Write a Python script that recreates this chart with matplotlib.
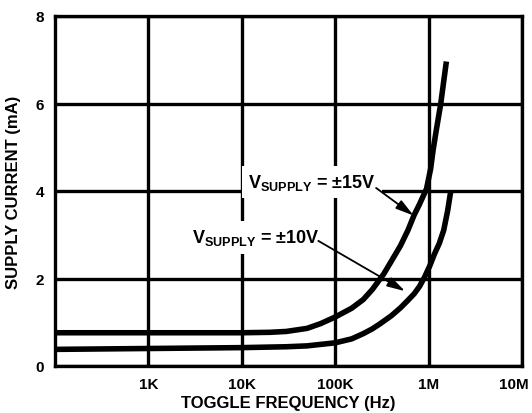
import matplotlib
matplotlib.use("Agg")
import matplotlib.pyplot as plt
import matplotlib.transforms as mtransforms
from matplotlib.ticker import FixedLocator, FixedFormatter, NullLocator

plt.rcParams['font.family'] = ['Liberation Sans', 'DejaVu Sans']
plt.rcParams['mathtext.fontset'] = 'custom'
plt.rcParams['mathtext.rm'] = 'Liberation Sans:bold'
plt.rcParams['mathtext.it'] = 'Liberation Sans:bold'
plt.rcParams['mathtext.bf'] = 'Liberation Sans:bold'

# Data
freq_15 = [100, 1e3, 1e4, 2e4, 3e4, 5e4, 7e4, 1e5, 1.5e5, 2e5, 2.5e5, 3.3e5, 4e5, 5e5,
           6e5, 7e5, 8e5, 9.5e5, 1.05e6, 1.12e6, 1.2e6, 1.35e6, 1.45e6, 1.55e6]
curr_15 = [0.76, 0.76, 0.76, 0.77, 0.79, 0.86, 0.97, 1.12, 1.32, 1.52, 1.75, 2.1, 2.4, 2.75,
           3.1, 3.45, 3.7, 4.05, 4.5, 4.95, 5.35, 6.0, 6.5, 6.96]

freq_10 = [100, 1e3, 1e4, 3e4, 5e4, 1e5, 1.5e5, 2e5, 2.5e5, 3e5, 4e5, 5e5, 6e5, 7e5,
           8e5, 9e5, 1.03e6, 1.15e6, 1.3e6, 1.45e6, 1.6e6, 1.73e6]
curr_10 = [0.38, 0.40, 0.42, 0.44, 0.46, 0.53, 0.62, 0.74, 0.85, 0.96, 1.15, 1.33, 1.5, 1.65,
           1.82, 2.02, 2.29, 2.55, 2.8, 3.1, 3.55, 4.01]

x_ticks = [1e3, 1e4, 1e5, 1e6, 1e7]
x_tick_labels = ['1K', '10K', '100K', '1M', '10M']
y_ticks = [0, 2, 4, 6, 8]

label_15 = 'V$_{\\mathrm{SUPPLY}}$ = ±15V'
label_10 = 'V$_{\\mathrm{SUPPLY}}$ = ±10V'

fig = plt.figure(figsize=(5.32, 4.14), dpi=100)
ax = fig.add_axes([55/532, 1 - 367/414, (522-55)/532, (367-17)/414])

ax.set_xscale('log')
ax.set_xlim(100, 1e7)
ax.set_ylim(0, 8)

ax.xaxis.set_major_locator(FixedLocator(x_ticks))
ax.xaxis.set_major_formatter(FixedFormatter(x_tick_labels))
ax.xaxis.set_minor_locator(NullLocator())
ax.set_yticks(y_ticks)

ax.tick_params(axis='both', length=0, pad=8, labelsize=11)
for lab in ax.get_xticklabels() + ax.get_yticklabels():
    lab.set_fontweight('bold')

# nudge the last x tick label so it stays inside the figure
last = ax.get_xticklabels()[-1]
last.set_transform(last.get_transform() +
                   mtransforms.ScaledTranslation(-8/100, 0, fig.dpi_scale_trans))

ax.grid(True, which='major', color='black', lw=2.4)
for s in ax.spines.values():
    s.set_linewidth(2.4)

ax.plot(freq_15, curr_15, color='black', lw=4, solid_capstyle='butt',
        solid_joinstyle='round', zorder=5)
ax.plot(freq_10, curr_10, color='black', lw=4, solid_capstyle='butt',
        solid_joinstyle='round', zorder=5)

bbox = dict(boxstyle='square,pad=0.35', facecolor='white', edgecolor='none')
ax.text(1.16e4, 4.09, label_15, fontsize=13, fontweight='bold', ha='left', va='baseline',
        bbox=bbox, zorder=3)
ax.text(2.93e3, 2.83, label_10, fontsize=13, fontweight='bold', ha='left', va='baseline',
        bbox=bbox, zorder=3)

arrow = dict(arrowstyle='-|>,head_length=0.9,head_width=0.25', lw=1.3, color='black',
             shrinkA=0, shrinkB=0, mutation_scale=12)
ax.annotate('', xy=(6.9e5, 3.44), xytext=(2.74e5, 4.07), arrowprops=arrow, zorder=6)
ax.annotate('', xy=(5.6e5, 1.71), xytext=(6.6e4, 2.86), arrowprops=arrow, zorder=6)

ax.set_xlabel('TOGGLE FREQUENCY (Hz)', fontsize=12, fontweight='bold', labelpad=3)
ax.set_ylabel('SUPPLY CURRENT (mA)', fontsize=12, fontweight='bold', labelpad=10)

fig.savefig('out.png', dpi=100)
